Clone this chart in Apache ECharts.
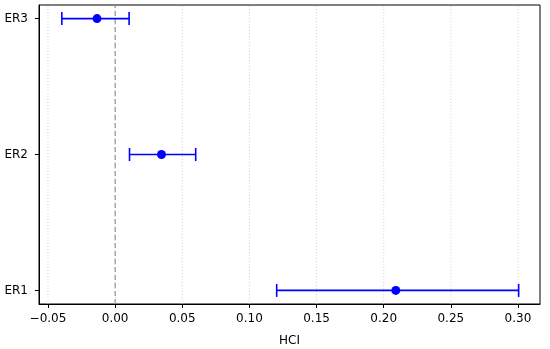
<!DOCTYPE html>
<html><head><meta charset="utf-8">
<script src="https://cdn.jsdelivr.net/npm/echarts@6/dist/echarts.min.js"></script>
<style>html,body{margin:0;padding:0;background:#fff}#c{width:550px;height:349px}</style>
</head><body><div id="c"></div>
<script>
const categories = ['ER1', 'ER2', 'ER3'];
const estimates = [0.209, 0.0345, -0.0135];
const lowerCI = [0.1203, 0.0107, -0.0397];
const upperCI = [0.3005, 0.0600, 0.0104];
const xTicks = [-0.05, 0.00, 0.05, 0.10, 0.15, 0.20, 0.25, 0.30];

const chart = echarts.init(document.getElementById('c'), null, {renderer: 'canvas'});
const font = 'DejaVu Sans';
const fs = 12;
const errData = categories.map((c, i) => [i, lowerCI[i], upperCI[i]]);
const ptData = categories.map((c, i) => [estimates[i], i]);

chart.setOption({
  animation: false,
  grid: {left: 39, right: 10, top: 5, bottom: 45, containLabel: false, outerBoundsMode: 'none',
    show: true, borderColor: '#000', borderWidth: 1, backgroundColor: 'transparent'},
  xAxis: {
    type: 'value', min: -0.0567, max: 0.3164,
    name: 'HCI', nameLocation: 'middle', nameGap: 31,
    nameTextStyle: {fontFamily: font, fontSize: fs, color: '#000'},
    axisLine: {show: true, onZero: false, lineStyle: {color: '#000', width: 1}},
    axisTick: {show: true, length: 4, lineStyle: {color: '#000'}, customValues: xTicks},
    axisLabel: {fontFamily: font, fontSize: fs, color: '#000', margin: 9, customValues: xTicks,
      formatter: v => v.toFixed(2).replace('-', '\u2212')},
    splitLine: {show: false}
  },
  yAxis: {
    type: 'value', min: -0.1, max: 2.1,
    axisLine: {show: true, onZero: false, lineStyle: {color: '#000', width: 1}},
    axisTick: {show: true, length: 4, lineStyle: {color: '#000'}, customValues: [0, 1, 2]},
    axisLabel: {fontFamily: font, fontSize: fs, color: '#000', margin: 11, customValues: [0, 1, 2],
      formatter: v => categories[Math.round(v)]},
    splitLine: {show: false}
  },
  series: [
    {
      type: 'custom',
      silent: true,
      z: 1,
      renderItem: function (params, api) {
        const children = xTicks.map(t => {
          const p1 = api.coord([t, -0.1]);
          const p2 = api.coord([t, 2.1]);
          return {type: 'line', shape: {x1: p1[0], y1: p1[1], x2: p2[0], y2: p2[1]},
            style: {stroke: '#c8c8c8', lineWidth: 0.8, lineDash: [1, 2]}};
        });
        const z1 = api.coord([0, -0.1]);
        const z2 = api.coord([0, 2.1]);
        children.push({type: 'line', shape: {x1: z1[0], y1: z1[1], x2: z2[0], y2: z2[1]},
          style: {stroke: '#808080', lineWidth: 1, lineDash: [5, 3]}});
        return {type: 'group', children: children};
      },
      data: [[0]]
    },
    {
      type: 'custom',
      z: 2,
      renderItem: function (params, api) {
        const y = api.value(0);
        const a = api.coord([api.value(1), y]);
        const b = api.coord([api.value(2), y]);
        const h = 6.5;
        const st = {stroke: '#0000ff', lineWidth: 1.6};
        return {type: 'group', children: [
          {type: 'line', shape: {x1: a[0], y1: a[1], x2: b[0], y2: b[1]}, style: st},
          {type: 'line', shape: {x1: a[0], y1: a[1] - h, x2: a[0], y2: a[1] + h}, style: st},
          {type: 'line', shape: {x1: b[0], y1: b[1] - h, x2: b[0], y2: b[1] + h}, style: st}
        ]};
      },
      encode: {x: [1, 2], y: 0},
      data: errData
    },
    {
      type: 'scatter',
      z: 3,
      symbol: 'circle',
      symbolSize: 9,
      itemStyle: {color: '#0000ff', opacity: 1},
      data: ptData
    }
  ]
});
</script></body></html>
